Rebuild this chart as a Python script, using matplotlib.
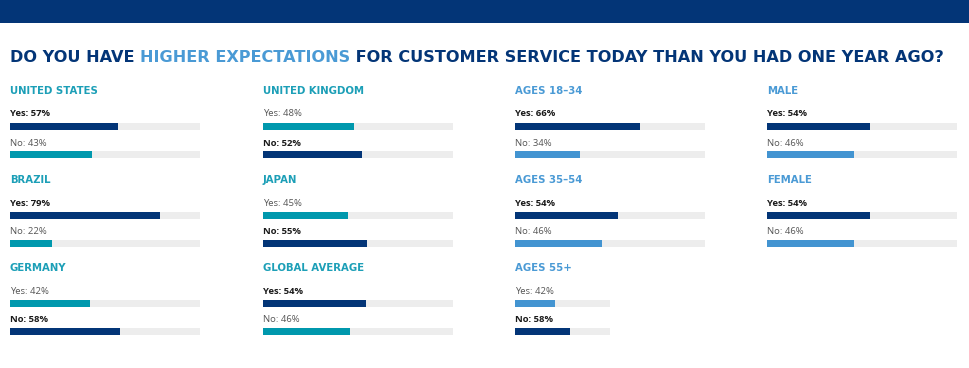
import matplotlib.pyplot as plt

# data
groups = ["UNITED STATES", "BRAZIL", "GERMANY",
          "UNITED KINGDOM", "JAPAN", "GLOBAL AVERAGE",
          "AGES 18–34", "AGES 35–54", "AGES 55+",
          "MALE", "FEMALE"]
yes_pct = [57, 79, 42, 48, 45, 54, 66, 54, 42, 54, 54]
no_pct = [43, 22, 58, 52, 55, 46, 34, 46, 58, 46, 46]
is_country = [True] * 6 + [False] * 5

# colours
NAVY = "#033577"
TEAL = "#0098ad"
LIGHT = "#4394d1"
TRACK = "#ededed"
HEAD_TEAL = "#1c9fb7"
HEAD_BLUE = "#4a9ad5"

# layout (pixels)
col_x = [10, 263, 515, 767]
row_y = [91, 180, 268]
track_w = 190

fig = plt.figure(figsize=(9.7, 3.68), dpi=100)
ax = fig.add_axes([0, 0, 1, 1])
ax.set_xlim(0, 970)
ax.set_ylim(368, 0)
ax.axis("off")

# top band
ax.barh(11.5, 970, left=0, height=23, color=NAVY)

# title in three coloured pieces
title_parts = [("DO YOU HAVE ", NAVY), ("HIGHER EXPECTATIONS", HEAD_BLUE),
               (" FOR CUSTOMER SERVICE TODAY THAN YOU HAD ONE YEAR AGO?", NAVY)]
renderer = fig.canvas.get_renderer()
x = 10
for txt, c in title_parts:
    t = ax.text(x, 58, txt, color=c, fontsize=11.6, fontweight="heavy",
                family="DejaVu Sans", va="center", ha="left")
    bb = t.get_window_extent(renderer)
    x += bb.width

for i, name in enumerate(groups):
    c = i // 3 if i < 9 else 3
    r = i % 3 if i < 9 else i - 9
    x0 = col_x[c]
    h = row_y[r]
    w = track_w / 2 if name == "AGES 55+" else track_w
    accent = TEAL if is_country[i] else LIGHT
    ax.text(x0, h, name, color=HEAD_TEAL if is_country[i] else HEAD_BLUE,
            fontsize=7.3, fontweight="bold", family="DejaVu Sans", va="center")
    for label, val, dy_t, dy_b in [("Yes", yes_pct[i], 23, 35.5),
                                   ("No", no_pct[i], 52, 63.5)]:
        other = no_pct[i] if label == "Yes" else yes_pct[i]
        major = val > other
        ax.text(x0, h + dy_t, f"{label}: {val}%",
                color="#1a1a1a" if major else "#555555",
                fontweight="bold" if major else "normal",
                fontsize=6.8, family="Open Sans", va="center")
        ax.barh(h + dy_b, w, left=x0, height=7, color=TRACK)
        ax.barh(h + dy_b, w * val / 100, left=x0, height=7,
                color=NAVY if major else accent)

fig.savefig("out.png", dpi=100)
